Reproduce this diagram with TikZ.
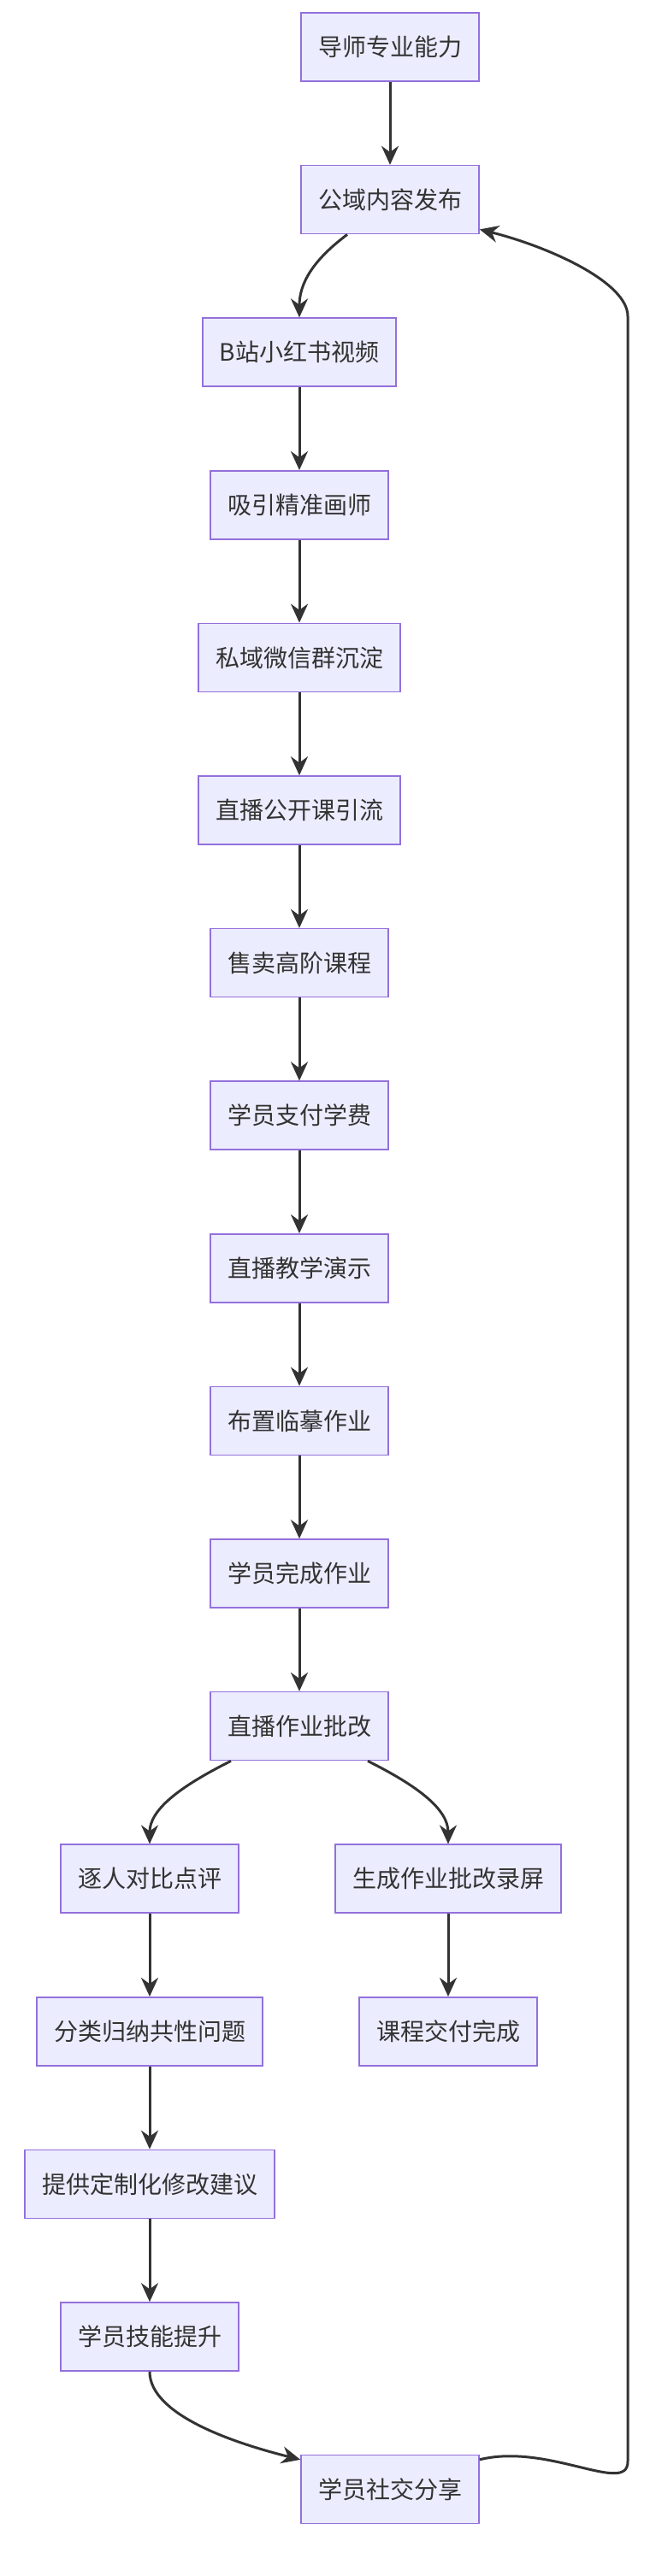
\documentclass[tikz,border=0pt]{standalone}
\usepackage{fontspec}
\setmainfont{Noto Sans CJK SC}
\usetikzlibrary{arrows.meta}
\begin{document}
\begin{tikzpicture}[x=1pt,y=1pt,
  box/.style={draw=purple!40!blue!60!white,draw={rgb,255:red,147;green,112;blue,219},fill={rgb,255:red,236;green,236;blue,255},line width=0.8pt,minimum height=40pt,inner xsep=10pt,font=\fontsize{14}{16}\selectfont,text={rgb,255:red,51;green,51;blue,51}},
  arr/.style={draw={rgb,255:red,51;green,51;blue,51},line width=1.5pt,-{Stealth[length=11pt,width=10pt]}}]
\useasboundingbox (0,0) rectangle (380,-1507);
\def\r#1{-27.5-89.3*#1}
\node[box] (a) at (228,{\r0}) {导师专业能力};
\node[box] (b) at (228,{\r1}) {公域内容发布};
\node[box] (c) at (175,{\r2}) {B站小红书视频};
\node[box] (d) at (175,{\r3}) {吸引精准画师};
\node[box] (e) at (175,{\r4}) {私域微信群沉淀};
\node[box] (f) at (175,{\r5}) {直播公开课引流};
\node[box] (g) at (175,{\r6}) {售卖高阶课程};
\node[box] (h) at (175,{\r7}) {学员支付学费};
\node[box] (i) at (175,{\r8}) {直播教学演示};
\node[box] (j) at (175,{\r9}) {布置临摹作业};
\node[box] (k) at (175,{\r{10}}) {学员完成作业};
\node[box] (l) at (175,{\r{11}}) {直播作业批改};
\node[box] (m) at (87.5,{\r{12}}) {逐人对比点评};
\node[box] (n) at (262,{\r{12}}) {生成作业批改录屏};
\node[box] (o) at (87.5,{\r{13}}) {分类归纳共性问题};
\node[box] (p) at (262,{\r{13}}) {课程交付完成};
\node[box] (q) at (87.5,{\r{14}}) {提供定制化修改建议};
\node[box] (s) at (87.5,{\r{15}}) {学员技能提升};
\node[box] (t) at (228,{\r{16}}) {学员社交分享};
\draw[arr] (a) -- (b);
\draw[arr] ([xshift=-25pt]b.south) .. controls +(-20,-15) and +(0,20) .. (c.north);
\foreach \u/\v in {c/d,d/e,e/f,f/g,g/h,h/i,i/j,j/k,k/l,m/o,o/q,q/s,n/p}{\draw[arr] (\u) -- (\v);}
\draw[arr] ([xshift=-40pt]l.south) .. controls +(-30,-15) and +(0,20) .. (m.north);
\draw[arr] ([xshift=40pt]l.south) .. controls +(30,-15) and +(0,20) .. (n.north);
\draw[arr] (s.south) .. controls +(0,-25) and +(-40,10) .. ([yshift=-3pt]t.north west);
\draw[arr] ([yshift=-3pt]t.north east) .. controls +(40,10) and +(0,-20) .. (367,-1440) -- (367,-185) .. controls +(0,20) and +(40,-10) .. ([yshift=3pt]b.south east);
\end{tikzpicture}
\end{document}
